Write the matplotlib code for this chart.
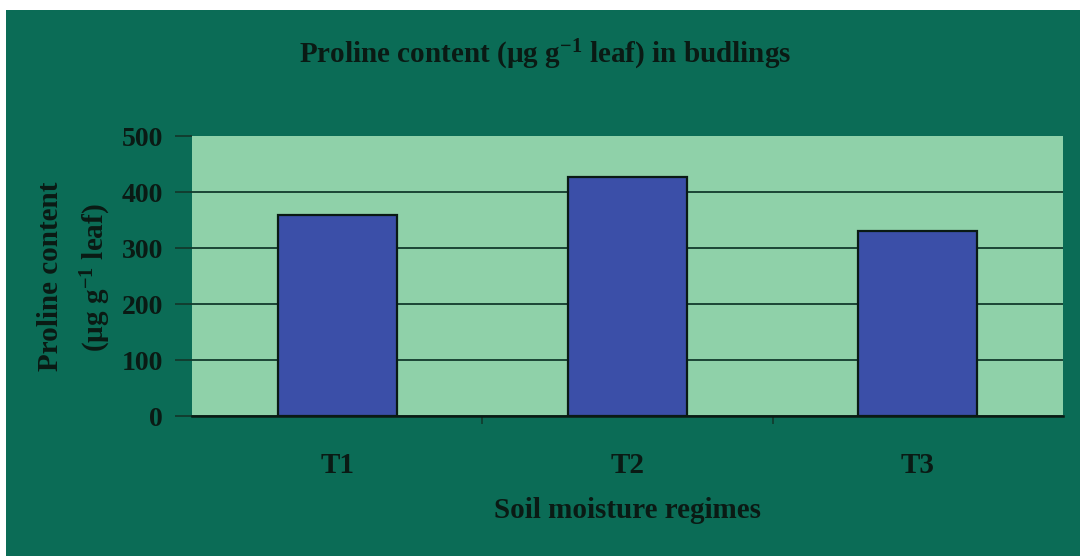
import matplotlib
matplotlib.use("Agg")
import matplotlib.pyplot as plt
import numpy as np
from matplotlib.patches import Rectangle

# values
regimes = ["T1", "T2", "T3"]
proline = [359, 427, 330]
yticks = [0, 100, 200, 300, 400, 500]

PANEL = "#0b6c56"
PLOT_BG = "#8fd1a9"
BAR = "#3b4fa8"
INK = "#0a1a14"
GRID = "#123a2c"

plt.rcParams["font.family"] = ["Liberation Serif", "DejaVu Serif"]
plt.rcParams["font.weight"] = "bold"
plt.rcParams["mathtext.default"] = "regular"

W, H = 1085, 556
fig = plt.figure(figsize=(W / 100, H / 100), dpi=100, facecolor="white")

# dark green chart panel, thin white margin at top/left
fig.patches.append(Rectangle((6 / W, 0), 1 - 11 / W, 1 - 10 / H,
                             transform=fig.transFigure, facecolor=PANEL,
                             edgecolor="none", zorder=-1))

ax = fig.add_axes([192 / W, 140 / H, 871 / W, 280 / H])
ax.set_zorder(2)
ax.set_facecolor(PLOT_BG)

x = np.arange(len(regimes))
ax.bar(x, proline, width=0.41, color=BAR, edgecolor=INK, linewidth=1.6, zorder=3)

ax.set_xlim(-0.5, 2.5)
ax.set_ylim(0, 500)
ax.set_yticks(yticks)
ax.set_yticklabels([str(v) for v in yticks], fontsize=20, fontweight="bold", color=INK)
ax.yaxis.grid(True, color=GRID, linewidth=1.3, zorder=1)
ax.set_axisbelow(True)
# no line drawn across the top of the plot area
ax.get_ygridlines()[-1].set_visible(False)

ax.set_xticks(x)
ax.set_xticklabels(regimes, fontsize=21, fontweight="bold", color=INK)
ax.set_xticks([0.5, 1.5], minor=True)
ax.tick_params(axis="x", which="major", length=0, pad=26)
ax.tick_params(axis="x", which="minor", length=6, width=1.2, color=GRID, direction="out")
ax.tick_params(axis="y", length=12, width=1.3, color=GRID, pad=9)

for side in ["top", "right", "left"]:
    ax.spines[side].set_visible(False)
ax.spines["bottom"].set_color(INK)
ax.spines["bottom"].set_linewidth(1.8)

fig.text(545 / W, 1 - 63 / H, "Proline content (µg g$^{-1}$ leaf) in budlings",
         ha="center", va="baseline", fontsize=21, fontweight="bold", color=INK)
fig.text(627 / W, 1 - 518 / H, "Soil moisture regimes",
         ha="center", va="baseline", fontsize=21, fontweight="bold", color=INK)
fig.text(51 / W, 1 - 276 / H, "Proline content",
         ha="center", va="center", rotation=90, fontsize=21, fontweight="bold", color=INK)
fig.text(96 / W, 1 - 278 / H, "(µg g$^{-1}$ leaf)",
         ha="center", va="center", rotation=90, fontsize=21, fontweight="bold", color=INK)

fig.savefig("out.png", dpi=100, facecolor="white")
